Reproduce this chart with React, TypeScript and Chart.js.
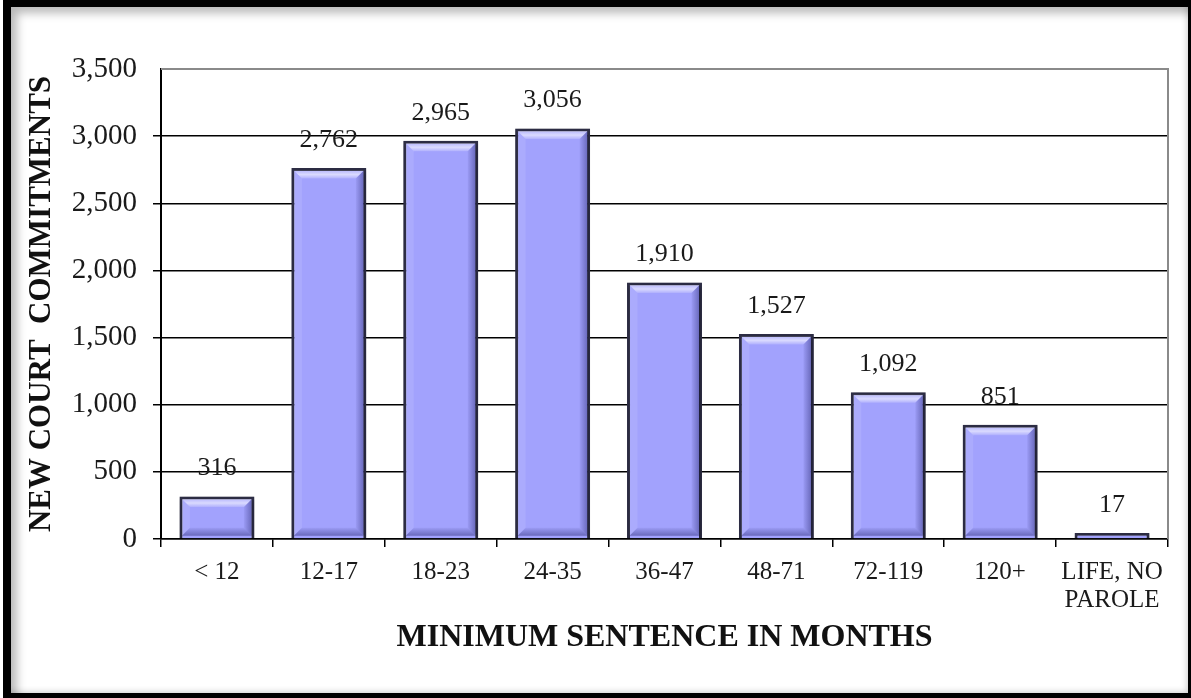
import React, { useEffect, useRef } from "react";
import { Chart, registerables } from "chart.js";

Chart.register(...registerables);

const categories: (string | string[])[] = ["< 12", "12-17", "18-23", "24-35", "36-47", "48-71", "72-119", "120+", ["LIFE, NO", "PAROLE"]];
const commitments = [316, 2762, 2965, 3056, 1910, 1527, 1092, 851, 17];
const yMin = 0;
const yMax = 3500;
const yStep = 500;
const yTitle = "NEW COURT  COMMITMENTS";
const xTitle = "MINIMUM SENTENCE IN MONTHS";

const SERIF = "'Liberation Serif', 'Times New Roman', serif";

const fmt = (v: number) => v.toLocaleString("en-US");

const bevelPlugin = {
  id: "bevelLabels",
  beforeDatasetDraw(chart: any) {
    const ctx = chart.ctx;
    ctx.save();
    ctx.shadowColor = "rgba(0,0,0,0.45)";
    ctx.shadowBlur = 5;
    ctx.shadowOffsetX = 1;
    ctx.shadowOffsetY = 1;
  },
  afterDatasetDraw(chart: any) {
    chart.ctx.restore();
  },
  afterDatasetsDraw(chart: any) {
    const ctx = chart.ctx;
    const meta = chart.getDatasetMeta(0);
    const ds = chart.data.datasets[0];
    meta.data.forEach((el: any, i: number) => {
      const p = el.getProps(["x", "y", "base", "width"], true);
      const l = p.x - p.width / 2;
      const r = p.x + p.width / 2;
      const t = Math.min(p.y, p.base);
      const b = Math.max(p.y, p.base);
      const bw = 2.5;
      const h = b - t;
      const d = Math.min(8, (h - 2 * bw) / 2);
      if (d > 1.5) {
        const L = l + bw, R = r - bw, T = t + bw, B = b - bw;
        const poly = (pts: number[][], color: any) => {
          ctx.beginPath();
          ctx.moveTo(pts[0][0], pts[0][1]);
          for (let k = 1; k < pts.length; k++) ctx.lineTo(pts[k][0], pts[k][1]);
          ctx.closePath();
          ctx.fillStyle = color;
          ctx.fill();
        };
        ctx.save();
        const gTop = ctx.createLinearGradient(0, T, 0, T + d);
        gTop.addColorStop(0, "rgba(255,255,255,0.25)");
        gTop.addColorStop(0.5, "rgba(255,255,255,0.6)");
        gTop.addColorStop(1, "rgba(255,255,255,0.15)");
        poly([[L, T], [R, T], [R - d, T + d], [L + d, T + d]], gTop);
        poly([[L, T], [L + d, T + d], [L + d, B - d], [L, B]], "rgba(255,255,255,0.1)");
        const gR = ctx.createLinearGradient(R - d, 0, R, 0);
        gR.addColorStop(0, "rgba(20,20,90,0.05)");
        gR.addColorStop(1, "rgba(20,20,90,0.4)");
        poly([[R, T], [R, B], [R - d, B - d], [R - d, T + d]], gR);
        const gB = ctx.createLinearGradient(0, B - d, 0, B);
        gB.addColorStop(0, "rgba(20,20,90,0.05)");
        gB.addColorStop(1, "rgba(20,20,90,0.4)");
        poly([[L, B], [L + d, B - d], [R - d, B - d], [R, B]], gB);
        ctx.restore();
      }
      ctx.save();
      ctx.fillStyle = "#1a1a1a";
      ctx.font = `26px ${SERIF}`;
      ctx.textAlign = "center";
      ctx.textBaseline = "middle";
      ctx.fillText(fmt(ds.data[i]), p.x, t - 28);
      ctx.restore();
    });
  },
  afterDraw(chart: any) {
    const { ctx, chartArea } = chart;
    ctx.save();
    ctx.strokeStyle = "#8a8a8a";
    ctx.lineWidth = 2;
    ctx.beginPath();
    ctx.moveTo(chartArea.left, chartArea.top);
    ctx.lineTo(chartArea.right, chartArea.top);
    ctx.lineTo(chartArea.right, chartArea.bottom);
    ctx.stroke();
    ctx.restore();
  },
};

export default function App() {
  const ref = useRef<HTMLCanvasElement | null>(null);
  useEffect(() => {
    if (!ref.current) return;
    const chart = new Chart(ref.current, {
      type: "bar",
      data: {
        labels: categories as any,
        datasets: [
          {
            data: commitments,
            backgroundColor: "#a2a2fd",
            borderColor: "#2e2e46",
            borderWidth: 3,
            barPercentage: 0.67,
            categoryPercentage: 1,
            minBarLength: 6,
          },
        ],
      },
      options: {
        animation: false,
        responsive: false,
        layout: { padding: { left: 0, right: 23, top: 69, bottom: 0 } },
        plugins: { legend: { display: false }, tooltip: { enabled: false } },
        scales: {
          x: {
            offset: true,
            grid: { offset: true, drawOnChartArea: false, drawTicks: true, tickLength: 8, color: "#000", lineWidth: 1.5 },
            border: { display: true, color: "#000", width: 1.5 },
            ticks: { color: "#1a1a1a", font: { family: SERIF, size: 25, lineHeight: 1.1 }, padding: 12, maxRotation: 0, autoSkip: false },
            title: { display: true, text: xTitle, color: "#111", font: { family: SERIF, size: 32, weight: "bold" }, padding: { top: 0, bottom: 41 } },
            afterFit: (s: any) => { s.height = 159; },
          },
          y: {
            min: yMin,
            max: yMax,
            grid: {
              color: (c: any) => (c.tick && c.tick.value === yMax ? "rgba(0,0,0,0)" : "#000"),
              lineWidth: 1.5,
              drawTicks: true,
              tickLength: 8,
            },
            border: { display: true, color: "#000", width: 2 },
            ticks: { stepSize: yStep, color: "#1a1a1a", font: { family: SERIF, size: 29 }, padding: 16, callback: (v: any) => fmt(Number(v)) },
            title: { display: true, text: yTitle, color: "#111", font: { family: SERIF, size: 31, weight: "bold" }, padding: { top: 23, bottom: 0 } },
            afterFit: (s: any) => { s.width = 161; },
          },
        },
      },
      plugins: [bevelPlugin],
    });
    return () => chart.destroy();
  }, []);

  return (
    <div style={{ position: "fixed", left: 0, top: 0, width: 1191, height: 698, background: "#fff" }}>
      <div
        style={{
          position: "absolute",
          left: 3,
          top: 0,
          right: 0,
          bottom: 0,
          borderLeft: "8px solid #000",
          borderTop: "7px solid #000",
          borderRight: "3px solid #000",
          borderBottom: "5px solid #000",
          boxShadow: "inset 12px 12px 10px -6px rgba(0,0,0,0.28), inset -4px -4px 6px -3px rgba(0,0,0,0.2)",
          boxSizing: "border-box",
        }}
      />
      <canvas ref={ref} width={1191} height={698} style={{ position: "absolute", left: 0, top: 0 }} />
    </div>
  );
}
